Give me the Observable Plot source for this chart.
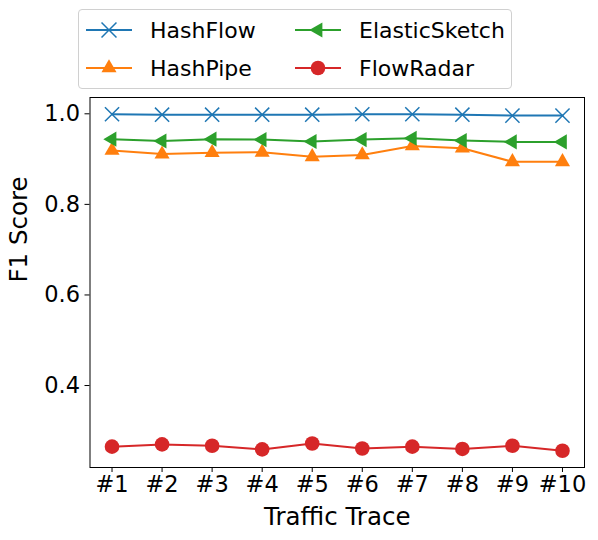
<!DOCTYPE html>
<html>
<head>
<meta charset="utf-8">
<script src="https://cdn.jsdelivr.net/npm/d3@7"></script>
<script src="https://cdn.jsdelivr.net/npm/@observablehq/plot@0.6"></script>
<style>
  body { margin: 0; background: #fff; font-family: "DejaVu Sans", sans-serif; }
  #wrap { position: relative; width: 598px; height: 540px; }
  #legend { position: absolute; left: 78px; top: 9px; width: 434px; height: 80px;
    border: 1px solid #d0d0d0; border-radius: 4px; box-sizing: border-box; background: #fff; }
  .item { position: absolute; height: 30px; display: flex; align-items: center; font-size: 22px; color: #000; }
  .item svg { margin-right: 18px; }
</style>
</head>
<body>
<div id="wrap">
  <div id="chart"></div>
  <div id="legend"></div>
</div>
<script>
const traces = [1, 2, 3, 4, 5, 6, 7, 8, 9, 10];
const traceLabels = ["#1", "#2", "#3", "#4", "#5", "#6", "#7", "#8", "#9", "#10"];
const seriesNames = ["HashFlow", "HashPipe", "ElasticSketch", "FlowRadar"];
const colors = ["#1f77b4", "#ff7f0e", "#2ca02c", "#d62728"];
const hashFlow = [0.999, 0.998, 0.998, 0.998, 0.998, 0.999, 0.999, 0.998, 0.996, 0.996];
const hashPipe = [0.919, 0.911, 0.914, 0.915, 0.905, 0.909, 0.929, 0.924, 0.894, 0.894];
const elasticSketch = [0.944, 0.940, 0.944, 0.943, 0.939, 0.943, 0.946, 0.941, 0.938, 0.938];
const flowRadar = [0.265, 0.270, 0.267, 0.259, 0.272, 0.261, 0.265, 0.260, 0.267, 0.256];
const yTicks = [0.4, 0.6, 0.8, 1.0];

const allValues = [hashFlow, hashPipe, elasticSketch, flowRadar];
const data = [];
seriesNames.forEach((s, i) => traces.forEach((t, j) => data.push({series: s, trace: t, value: allValues[i][j]})));
const sub = name => data.filter(d => d.series === name);
const font = "DejaVu Sans";

const chart = Plot.plot({
  width: 598,
  height: 540,
  marginLeft: 89.5,
  marginRight: 14,
  marginTop: 97,
  marginBottom: 73,
  style: {fontFamily: "DejaVu Sans, sans-serif", fontSize: "22px", color: "#000", background: "#fff"},
  x: {domain: [0.56, 10.44]},
  y: {domain: [0.219, 1.036]},
  marks: [
    Plot.frame({stroke: "#000", strokeWidth: 1}),
    Plot.axisX({ticks: traces, tickFormat: d => traceLabels[traces.indexOf(d)], tickSize: 5, tickPadding: 4, label: null, fontSize: 22.5, fontFamily: font}),
    Plot.axisY({ticks: yTicks, tickFormat: d3.format(".1f"), tickSize: 5, tickPadding: 5, label: null, fontSize: 22.5, fontFamily: font}),
    Plot.text(["Traffic Trace"], {frameAnchor: "bottom", dy: 50, fontSize: 24.5, fontFamily: font, lineAnchor: "middle"}),
    Plot.text(["F1 Score"], {frameAnchor: "left", dx: -71, rotate: -90, fontSize: 24.5, fontFamily: font, lineAnchor: "middle"}),
    ...seriesNames.map((s, i) => Plot.line(sub(s), {x: "trace", y: "value", stroke: colors[i], strokeWidth: 2})),
    Plot.dot(sub("HashFlow"), {x: "trace", y: "value", symbol: "times", r: 6.5, stroke: colors[0], strokeWidth: 1.5}),
    Plot.dot(sub("HashPipe"), {x: "trace", y: "value", symbol: "triangle", r: 5.6, fill: colors[1], stroke: "none"}),
    Plot.dot(sub("ElasticSketch"), {x: "trace", y: "value", symbol: "triangle", rotate: -90, r: 5.6, fill: colors[2], stroke: "none"}),
    Plot.dot(sub("FlowRadar"), {x: "trace", y: "value", symbol: "circle", r: 7.3, fill: colors[3], stroke: "none"})
  ]
});
document.getElementById("chart").appendChild(chart);

// legend
const legend = document.getElementById("legend");
const rotations = [0, 0, -90, 0];
const positions = [[7, 5], [7, 43], [216, 5], [216, 43]];
seriesNames.forEach((s, i) => {
  const item = document.createElement("div");
  item.className = "item";
  item.style.left = positions[i][0] + "px";
  item.style.top = positions[i][1] + "px";
  const sym = d3.symbol(i === 0 ? d3.symbolTimes : i === 3 ? d3.symbolCircle : d3.symbolTriangle, i === 3 ? Math.PI * 7.3 * 7.3 : Math.PI * 5.6 * 5.6 * (i === 0 ? 1.5 : 1))();
  const svg = `<svg width="46" height="30"><line x1="0" x2="46" y1="15" y2="15" stroke="${colors[i]}" stroke-width="2"/>` +
    `<path d="${sym}" transform="translate(23,15) rotate(${rotations[i]})" fill="${i === 0 ? "none" : colors[i]}" stroke="${i === 0 ? colors[i] : "none"}" stroke-width="1.5"/></svg>`;
  item.innerHTML = svg + `<span>${s}</span>`;
  legend.appendChild(item);
});
</script>
</body>
</html>
